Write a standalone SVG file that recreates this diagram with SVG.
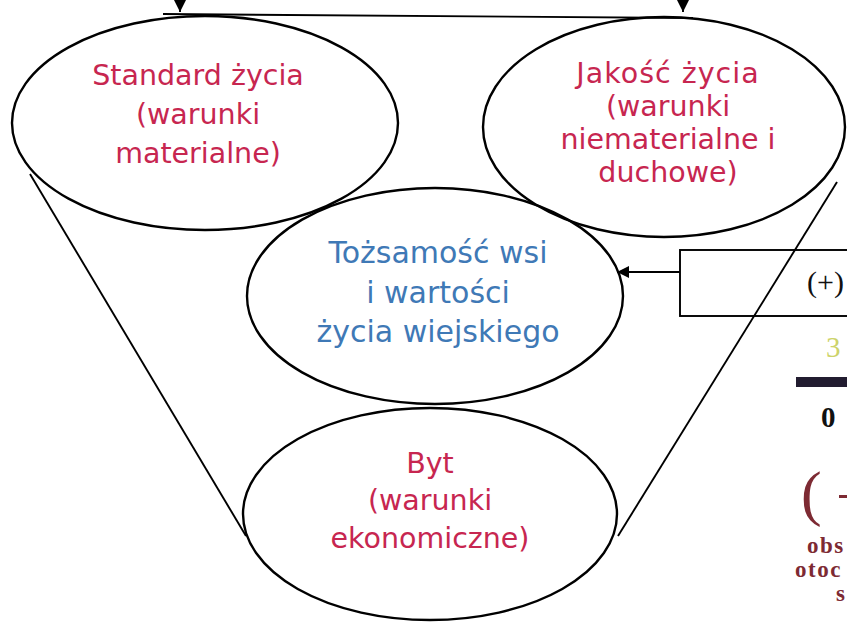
<svg xmlns="http://www.w3.org/2000/svg" width="847" height="623" viewBox="0 0 847 623">
<defs>
<marker id="ah" viewBox="0 0 12 12" refX="12" refY="6" markerWidth="12" markerHeight="12" markerUnits="userSpaceOnUse" orient="auto">
<path d="M0,0 L12,6 L0,12 Z" fill="#000"/>
</marker>
<style>
.el{fill:none;stroke:#000;stroke-width:2.4}
.ln{fill:none;stroke:#000;stroke-width:1.9}
.red{font-family:"DejaVu Sans","Liberation Sans",sans-serif;font-size:28.5px;fill:#c72650;text-anchor:middle}
.blue{font-family:"DejaVu Sans","Liberation Sans",sans-serif;font-size:30px;fill:#3f79b6;text-anchor:middle}
.ser{font-family:"Liberation Serif","Times New Roman",serif}
.mar{font-family:"Liberation Serif","Times New Roman",serif;font-weight:bold;font-size:23px;fill:#7d2a33;letter-spacing:1.5px}
</style>
</defs>
<rect width="847" height="623" fill="#fff"/>

<g id="connectors">
<path class="ln" d="M163,14 L693,18" stroke-width="3"/>
<path class="ln" d="M180,-20 L180,12" marker-end="url(#ah)"/>
<path class="ln" d="M683,-20 L683,12" marker-end="url(#ah)"/>
<path class="ln" d="M30,174 L246,536"/>
<path class="ln" d="M837,182 L618,536"/>
<path class="ln" d="M680,272 L617,272" marker-end="url(#ah)"/>
</g>

<g id="standard">
<ellipse class="el" cx="205" cy="123" rx="193" ry="107"/>
<text class="red" x="198" y="85">Standard życia</text>
<text class="red" x="198" y="124">(warunki</text>
<text class="red" x="198" y="163">materialne)</text>
</g>

<g id="jakosc">
<ellipse class="el" cx="664" cy="127" rx="181" ry="110"/>
<text class="red" x="668" y="83" letter-spacing="1">Jakość życia</text>
<text class="red" x="668" y="116">(warunki</text>
<text class="red" x="668" y="149">niematerialne i</text>
<text class="red" x="668" y="182">duchowe)</text>
</g>

<g id="tozsamosc">
<ellipse class="el" cx="435" cy="296" rx="188" ry="108"/>
<text class="blue" x="438" y="263">Tożsamość wsi</text>
<text class="blue" x="438" y="303">i wartości</text>
<text class="blue" x="438" y="342">życia wiejskiego</text>
</g>

<g id="byt">
<ellipse class="el" cx="430" cy="514" rx="187" ry="106"/>
<text class="red" x="430" y="473">Byt</text>
<text class="red" x="430" y="510">(warunki</text>
<text class="red" x="430" y="548">ekonomiczne)</text>
</g>

<g id="plus-box">
<rect x="680" y="250" width="200" height="66" fill="none" stroke="#000" stroke-width="1.9"/>
<text class="ser" x="807" y="292" font-size="30" fill="#111">(+)</text>
</g>

<g id="scale">
<text class="ser" x="826" y="357" font-size="29" fill="#cdd36a">3</text>
<rect x="796" y="377" width="51" height="10" fill="#221c30"/>
<text class="ser" x="821" y="427" font-size="29" font-weight="bold" fill="#111">0</text>
</g>

<g id="minus-label">
<text class="ser" x="801" y="514" font-size="62" fill="#7d2a33">(</text>
<rect x="839" y="495" width="10" height="3" fill="#7d2a33"/>
<text class="mar" x="807" y="553">obs</text>
<text class="mar" x="795" y="577">otoc</text>
<text class="mar" x="836" y="601">s</text>
</g>
</svg>
